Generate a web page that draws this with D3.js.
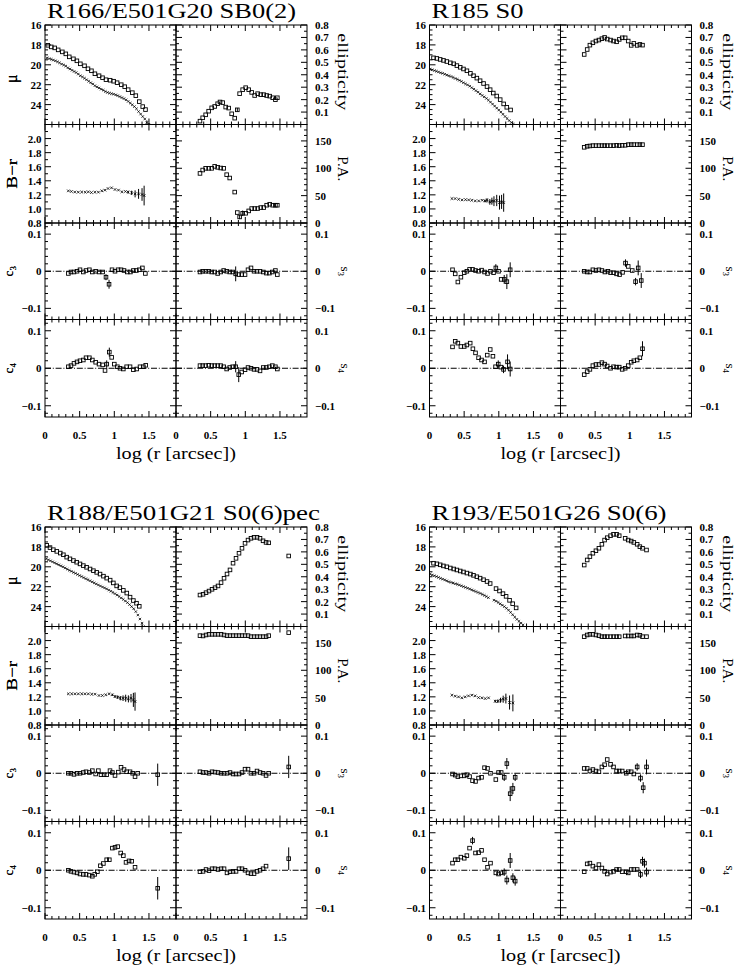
<!DOCTYPE html>
<html><head><meta charset="utf-8">
<script src="https://cdn.jsdelivr.net/npm/d3@7"></script>
<style>
body{margin:0;background:#fff}
text{font-family:"Liberation Serif","DejaVu Serif",serif;fill:#000}
</style>
</head><body>
<svg id="c" width="736" height="967" xmlns="http://www.w3.org/2000/svg" font-family="Liberation Serif, DejaVu Serif, serif"></svg>
<script>
// ---------------- DATA ----------------
const titles = ["R166/E501G20 SB0(2)", "R185 S0", "R188/E501G21 S0(6)pec", "R193/E501G26 S0(6)"];

const xTickLabels = [0, 0.5, 1, 1.5];
const muTickLabels = [16, 18, 20, 22, 24];
const brTickLabels = [0.8, 1.0, 1.2, 1.4, 1.6, 1.8, 2.0];
const ellTickLabels = [0.1, 0.2, 0.3, 0.4, 0.5, 0.6, 0.7, 0.8];
const paTickLabels = [0, 50, 100, 150];
const harmTickLabels = [-0.1, 0, 0.1];

// ---- galaxy 1 : R166 ----
const muR1 = [[0.04,18.04],[0.09,18.2],[0.14,18.3],[0.19,18.5],[0.25,18.7],[0.30,18.9],[0.35,19.2],[0.41,19.4],[0.46,19.6],[0.51,19.9],[0.57,20.1],[0.62,20.4],[0.67,20.6],[0.72,20.9],[0.78,21.1],[0.83,21.3],[0.88,21.5],[0.94,21.55],[0.99,21.65],[1.04,21.8],[1.10,22.0],[1.15,22.2],[1.20,22.5],[1.26,22.8],[1.31,23.1],[1.36,23.7],[1.41,24.2],[1.45,24.5]];
const muB1 = [[0.03,19.3],[0.06,19.38],[0.09,19.45],[0.12,19.52],[0.15,19.6],[0.18,19.7],[0.21,19.8],[0.24,19.93],[0.27,20.02],[0.30,20.13],[0.33,20.3],[0.36,20.42],[0.39,20.55],[0.42,20.67],[0.45,20.78],[0.48,20.93],[0.51,21.1],[0.54,21.22],[0.57,21.35],[0.60,21.5],[0.63,21.65],[0.66,21.8],[0.69,21.93],[0.72,22.1],[0.75,22.22],[0.78,22.33],[0.81,22.45],[0.84,22.55],[0.87,22.68],[0.90,22.78],[0.93,22.85],[0.96,22.9],[0.99,22.95],[1.02,23.02],[1.05,23.1],[1.08,23.2],[1.11,23.3],[1.14,23.4],[1.17,23.52],[1.20,23.68],[1.23,23.85],[1.26,24.02],[1.29,24.2],[1.32,24.42],[1.35,24.7],[1.38,24.95],[1.41,25.2],[1.44,25.45],[1.47,25.8,0.2],[1.50,25.97]];
const br1 = [[0.337,1.257],[0.38,1.248],[0.43,1.24],[0.48,1.238],[0.53,1.24],[0.58,1.238],[0.625,1.243],[0.67,1.233],[0.72,1.238],[0.77,1.238],[0.82,1.257],[0.865,1.267],[0.91,1.29],[0.96,1.30],[1.01,1.276],[1.06,1.267],[1.11,1.243],[1.16,1.248],[1.20,1.238,0.02],[1.25,1.229,0.03],[1.30,1.214,0.05],[1.35,1.214,0.07],[1.40,1.205,0.09],[1.43,1.19,0.14]];
const ell1 = [[0.346,0.027],[0.385,0.054],[0.428,0.078],[0.471,0.107],[0.515,0.134],[0.558,0.145],[0.601,0.167],[0.635,0.181],[0.674,0.176],[0.717,0.140],[0.760,0.132],[0.803,0.086],[0.847,0.051],[0.885,0.118,0.015],[0.918,0.248],[0.962,0.280],[1.005,0.296],[1.049,0.280],[1.092,0.258],[1.135,0.233],[1.178,0.248],[1.222,0.240],[1.265,0.240],[1.308,0.233],[1.352,0.228],[1.395,0.215],[1.434,0.199],[1.462,0.215]];
const pa1 = [[0.346,90.6],[0.385,96.8],[0.428,99.9],[0.471,99.9],[0.515,99.9],[0.558,103.5],[0.601,101.7],[0.645,100.5],[0.688,99.9],[0.731,88.3],[0.775,82.2],[0.847,56.5],[0.885,19.1],[0.918,11.1,4],[0.962,17.8,5],[1.005,17.8],[1.049,22.1],[1.092,26.4],[1.135,26.4],[1.178,26.4],[1.222,28.2],[1.265,28.2],[1.308,32.5],[1.352,34.3],[1.395,32.5],[1.434,32.5],[1.462,32.5]];
const c3_1 = [[0.337,-0.006],[0.375,-0.002],[0.418,-0.002],[0.462,0],[0.505,0.004],[0.553,-0.002],[0.592,0.002],[0.640,0.004],[0.683,-0.002],[0.731,0],[0.779,-0.002],[0.832,-0.002],[0.880,-0.016,0.008],[0.924,-0.035,0.012],[0.967,0.004],[1.01,0],[1.054,0.004],[1.097,0.004],[1.14,0.002],[1.188,-0.002],[1.232,-0.002],[1.275,0.002],[1.318,0.002],[1.361,0.004],[1.405,0.009],[1.448,-0.006]];
const s3_1 = [[0.346,-0.002],[0.385,0],[0.428,0],[0.471,0],[0.515,-0.002],[0.558,-0.002],[0.601,-0.006],[0.645,-0.002],[0.688,0.002],[0.731,0],[0.775,-0.002],[0.818,-0.002],[0.861,-0.007,0.02],[0.905,-0.009],[0.948,-0.009],[0.996,-0.009],[1.039,0.004],[1.082,0.009],[1.126,0],[1.169,0],[1.212,0],[1.260,-0.002],[1.304,-0.005],[1.347,-0.005],[1.390,-0.002],[1.434,0.002],[1.462,-0.009]];
const c4_1 = [[0.337,0.004],[0.375,0.007],[0.418,0.013],[0.462,0.017],[0.505,0.020],[0.553,0.022],[0.592,0.028],[0.640,0.028],[0.683,0.022],[0.731,0.016],[0.779,0.011],[0.832,0.009],[0.866,-0.006],[0.890,0.011,0.01],[0.928,0.043,0.012],[0.962,0.029],[1.0,0.011],[1.044,0.004],[1.082,0],[1.130,-0.002],[1.178,0.004],[1.227,0.004],[1.275,-0.004],[1.323,-0.002],[1.371,0.004],[1.419,0.004],[1.453,0.008]];
const s4_1 = [[0.346,0.007],[0.385,0.007],[0.428,0.007],[0.471,0.008],[0.515,0.007],[0.558,0.007],[0.601,0.007],[0.645,0.007],[0.688,0.004],[0.731,-0.002],[0.775,0.002],[0.818,0.004],[0.861,0.004,0.015],[0.905,-0.017,0.02],[0.948,-0.010],[0.996,-0.004],[1.039,0.002],[1.082,0],[1.126,-0.003],[1.169,-0.003],[1.212,-0.007],[1.260,0.002],[1.304,0.002],[1.347,0.004],[1.390,0.007],[1.434,0.004],[1.462,-0.002]];

// ---- galaxy 2 : R185 ----
const muR2 = [[0.058,19.3],[0.106,19.36],[0.154,19.46],[0.202,19.56],[0.25,19.67],[0.30,19.8],[0.35,19.9],[0.395,20.08],[0.443,20.25],[0.49,20.42],[0.54,20.6],[0.59,20.86],[0.635,21.1],[0.683,21.34],[0.73,21.6],[0.78,21.88],[0.83,22.19],[0.875,22.5],[0.92,22.84],[0.97,23.14],[1.02,23.5],[1.07,23.93],[1.115,24.27],[1.17,24.54]];
const muB2 = [[0.01,20.42],[0.04,20.5],[0.07,20.58],[0.10,20.65],[0.13,20.72],[0.16,20.8],[0.19,20.86],[0.22,20.95],[0.25,21.03],[0.28,21.1],[0.31,21.18],[0.34,21.27],[0.37,21.37],[0.40,21.46],[0.43,21.56],[0.46,21.67],[0.49,21.8],[0.52,21.92],[0.55,22.02],[0.58,22.15],[0.61,22.3],[0.64,22.45],[0.67,22.6],[0.70,22.75],[0.73,22.92],[0.76,23.08],[0.79,23.22],[0.82,23.38],[0.85,23.55],[0.88,23.75],[0.91,23.95],[0.94,24.15],[0.97,24.35],[1.00,24.55],[1.03,24.75],[1.06,24.97],[1.09,25.2],[1.12,25.4],[1.15,25.6],[1.18,25.8],[1.21,25.97]];
const br2 = [[0.323,1.147],[0.37,1.147],[0.42,1.137],[0.47,1.128],[0.52,1.132],[0.565,1.128],[0.61,1.123],[0.66,1.114],[0.71,1.114],[0.76,1.123],[0.80,1.114,0.02],[0.83,1.123,0.03],[0.87,1.10,0.04],[0.90,1.11,0.05],[0.93,1.11,0.07],[0.97,1.12,0.08],[1.01,1.09,0.1],[1.04,1.1,0.1],[1.07,1.09,0.13]];
const ell2 = [[0.342,0.563],[0.385,0.603],[0.424,0.638],[0.467,0.657],[0.511,0.671],[0.554,0.679],[0.597,0.690],[0.636,0.700],[0.674,0.687],[0.722,0.679],[0.765,0.671],[0.809,0.665],[0.847,0.684],[0.89,0.697],[0.933,0.697],[0.977,0.671],[1.02,0.636],[1.058,0.652],[1.106,0.636],[1.145,0.644],[1.183,0.638]];
const pa2 = [[0.342,138.3],[0.385,140.2],[0.424,140.8],[0.467,141.4],[0.511,141.4],[0.554,141.4],[0.597,141.4],[0.636,141.4],[0.674,141.4],[0.722,141.4],[0.765,141.4],[0.809,142],[0.847,141.4],[0.89,142],[0.933,142],[0.977,143.2],[1.02,143.2],[1.058,143.2],[1.106,143.2],[1.145,143.2],[1.183,143.2]];
const c3_2 = [[0.332,0.004],[0.371,-0.007],[0.409,-0.029],[0.453,-0.016],[0.501,-0.004],[0.539,0],[0.578,0.005],[0.621,0.005],[0.664,0.002],[0.708,0],[0.751,0.003],[0.794,-0.002],[0.837,-0.006],[0.880,0],[0.924,-0.004],[0.957,0.009,0.01],[0.996,0],[1.034,-0.022],[1.078,-0.022,0.012],[1.116,-0.028,0.02],[1.164,0.004,0.02]];
const s3_2 = [[0.342,0],[0.385,-0.002],[0.424,-0.002],[0.467,0.004],[0.511,0.002],[0.554,0.004],[0.597,0.002],[0.640,-0.002],[0.684,0],[0.722,-0.004],[0.765,-0.004],[0.809,-0.007],[0.852,-0.009],[0.895,-0.003],[0.938,0.022,0.01],[0.977,0.013],[1.035,0.002],[1.083,-0.028,0.01],[1.121,0.009,0.02],[1.165,-0.025,0.02]];
const c4_2 = [[0.332,0.057],[0.371,0.072],[0.409,0.067],[0.453,0.058],[0.501,0.058],[0.539,0.062],[0.587,0.067],[0.626,0.052],[0.664,0.041],[0.708,0.028],[0.751,0.022],[0.794,0.017],[0.833,0.035],[0.876,0.050],[0.915,0.032],[0.953,0.004],[0.992,0.011,0.01],[1.03,0.003],[1.068,-0.003,0.01],[1.126,0.017,0.02],[1.164,-0.002,0.02]];
const s4_2 = [[0.342,-0.017],[0.385,-0.009],[0.424,-0.003],[0.467,0.007],[0.511,0.010],[0.554,0.010],[0.597,0.015],[0.636,0.011],[0.674,0.006],[0.722,0],[0.765,0.004],[0.809,0.003],[0.847,0.003],[0.89,-0.003],[0.933,0],[0.977,0.007],[1.02,0.016],[1.058,0.020],[1.106,0.022],[1.145,0.028],[1.183,0.052,0.02]];

// ---- galaxy 3 : R188 ----
const muR3 = [[0.024,17.84],[0.072,18.07],[0.12,18.28],[0.17,18.45],[0.22,18.62],[0.265,18.79],[0.313,19.03],[0.36,19.2],[0.41,19.37],[0.457,19.54],[0.505,19.71],[0.553,19.88],[0.6,20.05],[0.65,20.22],[0.698,20.39],[0.746,20.56],[0.794,20.73],[0.843,20.94],[0.89,21.14],[0.94,21.34],[0.986,21.62],[1.034,21.92],[1.08,22.09],[1.13,22.37],[1.18,22.64],[1.227,23.05],[1.275,23.39],[1.32,23.66],[1.36,23.97]];
const muB3 = [[0.02,19.2],[0.05,19.3],[0.08,19.4],[0.11,19.5],[0.14,19.6],[0.17,19.7],[0.20,19.8],[0.23,19.9],[0.26,20.0],[0.29,20.12],[0.32,20.24],[0.35,20.35],[0.38,20.45],[0.41,20.56],[0.44,20.66],[0.47,20.77],[0.50,20.88],[0.53,20.98],[0.56,21.09],[0.59,21.2],[0.62,21.3],[0.65,21.4],[0.68,21.51],[0.71,21.62],[0.74,21.72],[0.77,21.83],[0.80,21.93],[0.83,22.03],[0.86,22.12],[0.89,22.22],[0.92,22.34],[0.95,22.46],[0.98,22.58],[1.01,22.7],[1.04,22.84],[1.07,22.98],[1.10,23.13],[1.13,23.28],[1.16,23.44],[1.19,23.6],[1.22,23.8],[1.25,24.0],[1.28,24.22],[1.31,24.5],[1.34,24.85],[1.37,25.25],[1.40,25.66],[1.42,26.0]];
const br3 = [[0.337,1.243],[0.385,1.243],[0.433,1.243],[0.481,1.243],[0.53,1.243],[0.577,1.243],[0.625,1.243],[0.674,1.238],[0.722,1.238],[0.779,1.219],[0.828,1.219],[0.876,1.229],[0.924,1.243],[0.972,1.229,0.015],[1.01,1.205,0.02],[1.049,1.195,0.025],[1.087,1.181,0.03],[1.126,1.181,0.04],[1.164,1.181,0.05],[1.203,1.171,0.05],[1.241,1.181,0.06],[1.275,1.157,0.1],[1.299,1.133,0.13]];
const ell3 = [[0.346,0.253],[0.39,0.259],[0.433,0.272],[0.476,0.285],[0.52,0.299],[0.563,0.312],[0.606,0.326],[0.65,0.353],[0.693,0.388],[0.736,0.422],[0.779,0.455],[0.823,0.509],[0.866,0.548],[0.909,0.589],[0.952,0.629],[0.996,0.669],[1.039,0.695],[1.082,0.709],[1.126,0.717],[1.169,0.717],[1.212,0.709],[1.256,0.689],[1.299,0.676],[1.337,0.673],[1.626,0.567]];
const pa3 = [[0.346,163.3],[0.39,162.7],[0.433,164.5],[0.476,165.7],[0.52,165.7],[0.563,165.7],[0.606,165.7],[0.65,165.7],[0.693,164.5],[0.736,163.3],[0.779,163.3],[0.823,163.3],[0.866,163.3],[0.909,163.3],[0.952,163.3],[0.996,163.3],[1.039,163.3],[1.082,161.4],[1.126,161.4],[1.169,161.4],[1.212,161.4],[1.256,161.4],[1.299,161.4],[1.337,163.3],[1.626,168.8]];
const c3_3 = [[0.337,0],[0.375,0],[0.418,-0.003],[0.462,0],[0.505,0],[0.553,0.002],[0.592,0.004],[0.640,0.002],[0.683,0.007],[0.731,-0.002],[0.770,0.007],[0.808,-0.004],[0.852,-0.004],[0.890,-0.004],[0.938,0.007],[0.972,0.002],[1.01,-0.006],[1.058,0.003],[1.097,0.016],[1.14,0.010],[1.178,0.004],[1.227,0.004],[1.265,0],[1.299,-0.009],[1.337,0],[1.626,-0.004,0.03]];
const s3_3 = [[0.346,0.004],[0.39,0.002],[0.433,0.002],[0.476,0],[0.52,0.004],[0.563,0.003],[0.606,0.002],[0.65,0],[0.693,0],[0.736,0],[0.779,0.002],[0.823,-0.002],[0.866,-0.002],[0.909,-0.002],[0.952,0.002],[0.996,0.011],[1.039,0.011],[1.082,0],[1.126,0],[1.169,0.006],[1.212,0.002],[1.256,0],[1.299,-0.006],[1.337,0],[1.626,0.017,0.03]];
const c4_3 = [[0.337,0],[0.375,-0.003],[0.418,-0.005],[0.462,-0.007],[0.505,-0.01],[0.553,-0.011],[0.592,-0.011],[0.640,-0.013],[0.683,-0.016],[0.717,-0.011],[0.756,-0.004],[0.799,0.012],[0.842,0.018],[0.890,0.028],[0.928,0.028],[0.972,0.059],[1.01,0.061],[1.049,0.063],[1.092,0.046],[1.13,0.039],[1.169,0.021],[1.212,0.025],[1.251,0.024],[1.299,0.008],[1.626,-0.048,0.03]];
const s4_3 = [[0.346,-0.004],[0.39,-0.003],[0.433,0.002],[0.476,-0.001],[0.52,0.004],[0.563,0.004],[0.606,0.002],[0.65,0.004],[0.693,0.004],[0.736,-0.007],[0.779,-0.004],[0.823,-0.003],[0.866,-0.003],[0.909,0.004],[0.952,0.004],[0.996,0],[1.039,-0.007],[1.082,-0.009],[1.126,-0.009],[1.169,-0.003],[1.212,0],[1.256,0.004],[1.299,0.011],[1.626,0.031,0.03]];

// ---- galaxy 4 : R193 ----
const muR4 = [[0.058,19.64],[0.106,19.7],[0.154,19.8],[0.2,19.91],[0.25,20.0],[0.3,20.12],[0.35,20.22],[0.395,20.32],[0.443,20.42],[0.49,20.52],[0.54,20.63],[0.59,20.73],[0.635,20.86],[0.683,21.0],[0.73,21.14],[0.78,21.3],[0.83,21.48],[0.875,21.68],[0.96,22.19],[1.01,22.43],[1.06,22.7],[1.105,22.97],[1.155,23.37],[1.2,23.71],[1.25,24.13]];
const muB4 = [[0.01,20.73],[0.04,20.82],[0.07,20.9],[0.10,20.98],[0.13,21.07],[0.16,21.16],[0.19,21.24],[0.22,21.32],[0.25,21.41],[0.28,21.5],[0.31,21.57],[0.34,21.63],[0.37,21.7],[0.40,21.76],[0.43,21.83],[0.46,21.91],[0.49,21.99],[0.52,22.07],[0.55,22.15],[0.58,22.23],[0.61,22.32],[0.64,22.4],[0.67,22.49],[0.70,22.58],[0.73,22.67],[0.76,22.77],[0.79,22.87],[0.82,22.98],[0.85,23.1],[0.93,23.35],[0.96,23.46],[0.99,23.58],[1.02,23.72],[1.05,23.86],[1.08,24.0],[1.11,24.17],[1.14,24.36],[1.17,24.58],[1.20,24.82],[1.23,25.05],[1.26,25.28],[1.29,25.48],[1.32,25.66],[1.35,25.84]];
const br4 = [[0.323,1.224],[0.371,1.21],[0.419,1.2],[0.467,1.186],[0.515,1.2],[0.563,1.214],[0.611,1.224],[0.659,1.214],[0.708,1.19],[0.756,1.186],[0.804,1.176],[0.852,1.186],[0.948,1.138,0.02],[0.986,1.138,0.025],[1.025,1.152,0.035],[1.063,1.167,0.05],[1.102,1.176,0.07],[1.155,1.119,0.1],[1.203,1.114,0.12]];
const ell4 = [[0.342,0.494],[0.385,0.535],[0.424,0.562],[0.467,0.589],[0.511,0.609],[0.554,0.629],[0.597,0.661],[0.636,0.695],[0.674,0.714],[0.722,0.730],[0.765,0.741],[0.809,0.741],[0.847,0.730],[0.933,0.709],[0.977,0.695],[1.02,0.687],[1.058,0.676],[1.106,0.661],[1.145,0.642],[1.183,0.629],[1.241,0.615]];
const pa4 = [[0.342,161.4],[0.385,164.5],[0.424,165.7],[0.467,165.7],[0.511,164.5],[0.554,163.3],[0.597,161.4],[0.636,161.4],[0.674,161.4],[0.722,161.4],[0.765,161.4],[0.809,161.4],[0.847,161.4],[0.933,162.7],[0.977,162.7],[1.02,162.7],[1.058,162.7],[1.106,164.5],[1.145,163.9],[1.183,161.4],[1.241,161.4]];
const c3_4 = [[0.332,-0.002],[0.371,-0.005],[0.409,-0.009],[0.453,-0.007],[0.501,-0.007],[0.539,-0.004],[0.578,-0.009],[0.621,-0.02],[0.664,-0.022],[0.708,-0.013],[0.751,-0.011],[0.794,0.015],[0.837,0.013],[0.880,0],[0.957,-0.017],[0.996,0.002],[1.034,0.002],[1.078,-0.011,0.01],[1.116,0.026,0.015],[1.164,-0.055,0.02],[1.203,-0.041,0.015],[1.236,-0.011,0.01]];
const s3_4 = [[0.342,0.013],[0.385,0.013],[0.424,0.006],[0.467,0.010],[0.511,0.006],[0.554,0.004],[0.597,0.017],[0.636,0.023],[0.674,0.037],[0.722,0.024],[0.765,0.017],[0.809,0.006],[0.847,0.006],[0.89,0.006],[0.948,0],[0.977,0.004],[1.02,0.004],[1.058,-0.002],[1.106,0.017,0.01],[1.154,-0.013,0.01],[1.193,-0.039,0.015],[1.241,0.017,0.02]];
const c4_4 = [[0.332,0.019],[0.371,0.028],[0.409,0.028],[0.453,0.035],[0.501,0.032],[0.539,0.039],[0.578,0.059],[0.621,0.079,0.01],[0.664,0.046],[0.708,0.047],[0.751,0.053],[0.794,0.028],[0.837,0.008],[0.880,0.019],[0.957,-0.007],[0.996,-0.01],[1.034,-0.007],[1.078,-0.005,0.01],[1.116,-0.026,0.012],[1.164,0.026,0.02],[1.203,-0.02,0.012],[1.236,-0.029,0.012]];
const s4_4 = [[0.342,-0.004],[0.385,0.017],[0.424,0.019],[0.467,0.011],[0.511,0.006],[0.554,0.015],[0.597,0.006],[0.636,-0.003],[0.674,-0.01],[0.722,-0.005],[0.765,-0.003],[0.809,0.002],[0.847,0.002],[0.89,-0.004],[0.948,-0.004],[0.977,-0.007],[1.02,0.002],[1.058,0.002],[1.106,0.002],[1.154,-0.011,0.01],[1.183,0.024,0.012],[1.212,0.019,0.012],[1.241,-0.005,0.012]];

const galaxies = [
  {muR: muR1, muB: muB1, br: br1, ell: ell1, pa: pa1, c3: c3_1, s3: s3_1, c4: c4_1, s4: s4_1},
  {muR: muR2, muB: muB2, br: br2, ell: ell2, pa: pa2, c3: c3_2, s3: s3_2, c4: c4_2, s4: s4_2},
  {muR: muR3, muB: muB3, br: br3, ell: ell3, pa: pa3, c3: c3_3, s3: s3_3, c4: c4_3, s4: s4_3},
  {muR: muR4, muB: muB4, br: br4, ell: ell4, pa: pa4, c3: c3_4, s3: s3_4, c4: c4_4, s4: s4_4}
];

// ---------------- LAYOUT ----------------
const FONT = "Liberation Serif, DejaVu Serif, serif";
const svg = d3.select("#c");
const blockX = [45, 429.5], blockY = [25, 527];
const titleLen = [249, 92, 273, 235];
const PW = 131;
const rowOff = [0, 99.5, 198, 294.5, 392];
const xDomain = [0, 1.89];

const fmt1 = d => d.toFixed(1);
const fmtH = d => d === 0 ? "0" : (d < 0 ? "\u2212" : "") + Math.abs(d);
const Q = {
  mu:  {domain:[16,26], flip:true, minor:0.5, major:2, labels:muTickLabels, fmt:d=>String(d)},
  ell: {domain:[0,0.8], minor:0.05, major:0.1, labels:ellTickLabels, fmt:fmt1},
  br:  {domain:[0.8,2.2], minor:0.1, major:0.2, labels:brTickLabels, fmt:fmt1},
  pa:  {domain:[0,180], minor:10, major:50, labels:paTickLabels, fmt:d=>String(d)},
  h:   {domain:[-0.13,0.13], minor:0.02, major:0.1, labels:harmTickLabels, fmt:fmtH}
};
const layout = [
  [{q:"mu", key:"mu", title:"\u03bc", fs:16, off:4}, {q:"ell", key:"ell", title:"ellipticity", fs:14, len:77, off:-3}],
  [{q:"br", key:"br", title:"B\u2212r", fs:15, len:30, off:0}, {q:"pa", key:"pa", title:"P.A.", fs:14, len:25, off:-5}],
  [{q:"h", key:"c3", title:"c", sub:"3", fs:13, off:0}, {q:"h", key:"s3", title:"s", sub:"3", fs:13, off:0}],
  [{q:"h", key:"c4", title:"c", sub:"4", fs:13, off:0}, {q:"h", key:"s4", title:"s", sub:"4", fs:13, off:0}]
];

function tickVals(d0, d1, step) {
  const out = [];
  const i0 = Math.ceil(d0/step - 1e-6), i1 = Math.floor(d1/step + 1e-6);
  for (let i=i0;i<=i1;i++) out.push(+(i*step).toFixed(6));
  return out;
}
function isMajor(v, major) { const r = v/major; return Math.abs(r - Math.round(r)) < 1e-6; }

let clipId = 0;
function errBars(gg, data, xs, ys) {
  gg.selectAll(null).data(data.filter(d=>d[2])).enter().append("line")
    .attr("x1", d=>xs(d[0])).attr("x2", d=>xs(d[0]))
    .attr("y1", d=>ys(d[1]-d[2])).attr("y2", d=>ys(d[1]+d[2]))
    .attr("stroke","#000").attr("stroke-width",1);
}
function squares(g, data, xs, ys, s) {
  const gg = g.append("g");
  errBars(gg, data, xs, ys);
  gg.selectAll(null).data(data).enter().append("rect")
    .attr("x", d=>xs(d[0])-s/2).attr("y", d=>ys(d[1])-s/2)
    .attr("width", s).attr("height", s)
    .attr("fill","none").attr("stroke","#000").attr("stroke-width",0.9);
}
function crosses(g, data, xs, ys, a) {
  const gg = g.append("g");
  errBars(gg, data, xs, ys);
  gg.selectAll(null).data(data).enter().append("path")
    .attr("d", d=>{const x=xs(d[0]), y=ys(d[1]);
      return `M${x-a},${y-a}L${x+a},${y+a}M${x-a},${y+a}L${x+a},${y-a}`;})
    .attr("stroke","#000").attr("stroke-width",0.8).attr("fill","none");
}
function txt(sel) { return sel.append("text").attr("font-family", FONT).attr("fill", "#000"); }

galaxies.forEach((G, gi) => {
  const bx = blockX[gi%2], by = blockY[Math.floor(gi/2)];
  txt(svg).attr("x", bx+2).attr("y", by-7)
    .attr("font-size", 20).attr("textLength", titleLen[gi]).attr("lengthAdjust","spacingAndGlyphs")
    .text(titles[gi]);

  for (let row=0; row<4; row++) for (let col=0; col<2; col++) {
    const cell = layout[row][col], q = Q[cell.q];
    const x0 = bx + col*PW, x1 = x0 + PW, y0 = by + rowOff[row], y1 = by + rowOff[row+1];
    const xs = d3.scaleLinear().domain(xDomain).range([x0, x1]);
    const ys = d3.scaleLinear().domain(q.domain).range(q.flip ? [y0, y1] : [y1, y0]);
    const g = svg.append("g");
    const id = "clip" + (clipId++);
    svg.append("clipPath").attr("id", id).append("rect")
      .attr("x", x0).attr("y", y0).attr("width", PW).attr("height", y1-y0);
    const dg = g.append("g").attr("clip-path", `url(#${id})`);

    g.append("rect").attr("x", x0).attr("y", y0).attr("width", PW).attr("height", y1-y0)
      .attr("fill","none").attr("stroke","#000").attr("stroke-width",1);
    tickVals(xDomain[0], xDomain[1], 0.1).forEach(v => {
      const L = isMajor(v, 0.5) ? 6 : 3, x = xs(v);
      g.append("line").attr("x1",x).attr("x2",x).attr("y1",y1).attr("y2",y1-L).attr("stroke","#000");
      g.append("line").attr("x1",x).attr("x2",x).attr("y1",y0).attr("y2",y0+L).attr("stroke","#000");
    });
    tickVals(q.domain[0], q.domain[1], q.minor).forEach(v => {
      const L = isMajor(v, q.major) ? 6 : 3, y = ys(v);
      g.append("line").attr("x1",x0).attr("x2",x0+L).attr("y1",y).attr("y2",y).attr("stroke","#000");
      g.append("line").attr("x1",x1).attr("x2",x1-L).attr("y1",y).attr("y2",y).attr("stroke","#000");
    });
    q.labels.forEach(v => {
      const t = txt(g).attr("y", ys(v)).attr("dy","0.36em")
        .attr("font-size", 11).attr("font-weight","bold").text(q.fmt(v));
      if (col === 0) t.attr("x", x0-3.5).attr("text-anchor","end");
      else t.attr("x", x1+8).attr("text-anchor","start");
    });
    const cy = (y0+y1)/2 + cell.off;
    let t;
    if (col === 0) {
      t = txt(g).attr("transform", `translate(${cell.q==="h"?13:17},${cy}) rotate(-90)`);
    } else {
      t = txt(g).attr("transform", `translate(${x1+(cell.q==="h"?34:31)},${cy}) rotate(90)`);
    }
    t.attr("text-anchor","middle").attr("font-size", cell.fs).text(cell.title);
    if (cell.len) t.attr("textLength", cell.len).attr("lengthAdjust","spacingAndGlyphs");
    if (cell.sub) t.append("tspan").attr("dy",3).attr("font-size",9).text(cell.sub);

    if (row === 3) {
      xTickLabels.forEach(v => {
        txt(g).attr("x", xs(v)).attr("y", y1+22).attr("text-anchor","middle")
          .attr("font-size", 11).attr("font-weight","bold").text(String(v));
      });
    }
    if (cell.q === "h") {
      dg.append("line").attr("x1",x0).attr("x2",x1).attr("y1",ys(0)).attr("y2",ys(0))
        .attr("stroke","#000").attr("stroke-width",1).attr("stroke-dasharray","6,1.8,1,1.8");
    }
    if (cell.key === "mu") {
      crosses(dg, G.muB, xs, ys, 1.2);
      squares(dg, G.muR, xs, ys, 3.6);
    } else if (cell.key === "br") {
      crosses(dg, G.br, xs, ys, 1.3);
    } else {
      squares(dg, G[cell.key], xs, ys, 3.6);
    }
  }
  txt(svg).attr("x", bx+PW).attr("y", by+rowOff[4]+42).attr("text-anchor","middle")
    .attr("font-size", 16).attr("textLength", 120).attr("lengthAdjust","spacingAndGlyphs")
    .text("log (r [arcsec])");
});
</script>
</body></html>
